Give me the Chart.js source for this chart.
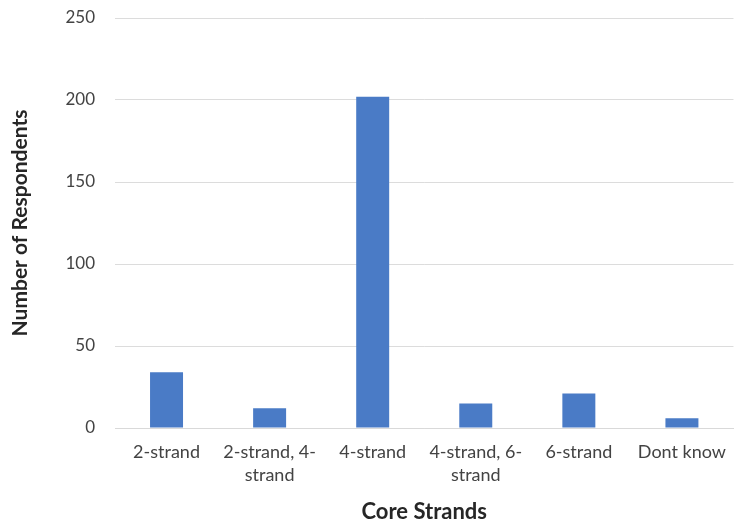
<!DOCTYPE html>
<html>
<head>
<meta charset="utf-8">
<script src="https://cdn.jsdelivr.net/npm/chart.js@4/dist/chart.umd.min.js"></script>
<style>
  html, body { margin: 0; padding: 0; background: #ffffff; overflow: hidden; }
  #wrap { width: 738px; height: 521px; position: relative; }
</style>
</head>
<body>
<div id="wrap"><canvas id="chart" width="738" height="521"></canvas></div>
<script>
// Core strand categories (multi-line labels are wrapped like the axis text)
const categories = [
  '2-strand',
  ['2-strand, 4-', 'strand'],
  '4-strand',
  ['4-strand, 6-', 'strand'],
  '6-strand',
  'Dont know'
];
// Respondent counts per category
const respondents = [34, 12, 202, 15, 21, 6];
// Value axis ticks
const yTicks = [0, 50, 100, 150, 200, 250];

const FONT = 'Lato, "Open Sans", sans-serif';
const TEXT = '#434343';
const TITLE = '#262626';

new Chart(document.getElementById('chart'), {
  type: 'bar',
  data: {
    labels: categories,
    datasets: [{
      data: respondents,
      backgroundColor: '#4a7bc6',
      borderWidth: 0,
      categoryPercentage: 1,
      barPercentage: 0.32
    }]
  },
  options: {
    responsive: false,
    animation: false,
    devicePixelRatio: 1,
    layout: { padding: { top: 18, right: 0, bottom: 0, left: 5 } },
    plugins: { legend: { display: false }, tooltip: { enabled: false } },
    scales: {
      x: {
        grid: { display: false, drawTicks: false },
        border: { display: true, color: '#d9d9d9', width: 1 },
        ticks: { color: TEXT, font: { family: FONT, size: 18, lineHeight: 1.3 }, padding: 12, maxRotation: 0, autoSkip: false },
        title: {
          display: true,
          text: 'Core Strands',
          color: TITLE,
          font: { family: FONT, size: 22, weight: 'bold' },
          padding: { top: 16, bottom: -4 }
        },
        afterFit: (s) => { s.height = 93; s.paddingTop = 0; s.paddingBottom = 0; }
      },
      y: {
        min: 0,
        max: 250,
        afterBuildTicks: (s) => { s.ticks = yTicks.map(v => ({ value: v })); },
        grid: { color: '#dcdcdc', drawTicks: false, lineWidth: 1 },
        border: { display: false },
        ticks: { color: TEXT, font: { family: FONT, size: 17 }, padding: 20 },
        title: {
          display: true,
          text: 'Number of Respondents',
          color: TITLE,
          font: { family: FONT, size: 21, weight: 'bold' },
          padding: { top: 3, bottom: 0 }
        },
        afterFit: (s) => { s.width = 110; s.paddingTop = 0; s.paddingBottom = 0; }
      }
    }
  }
});
</script>
</body>
</html>
